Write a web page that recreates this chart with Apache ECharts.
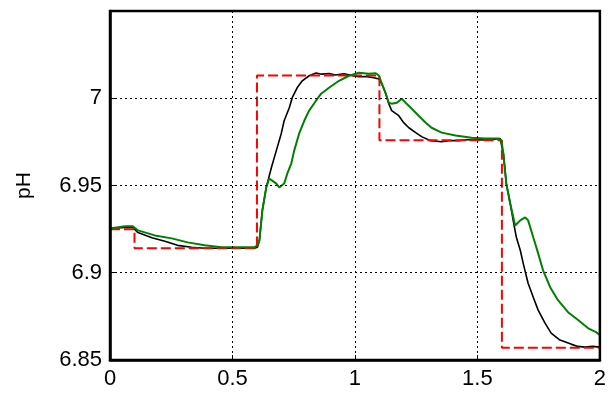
<!DOCTYPE html>
<html><head><meta charset="utf-8">
<script src="https://cdn.jsdelivr.net/npm/echarts@6/dist/echarts.min.js"></script>
<style>html,body{margin:0;padding:0;background:#fff}#c{width:609px;height:393px}</style>
</head><body><div id="c"></div>
<script>
const xTicks = [0, 0.5, 1, 1.5, 2];
const yTicks = [6.85, 6.9, 6.95, 7];
const setpointX = [0, 0.1, 0.1, 0.6, 0.6, 1.1, 1.1, 1.6, 1.6, 2];
const setpointY = [6.925, 6.925, 6.914, 6.914, 7.013, 7.013, 6.976, 6.976, 6.857, 6.857];
const blackX = [0,0.061,0.093,0.114,0.171,0.224,0.276,0.333,0.386,0.455,0.52,0.589,0.602,0.61,0.622,0.638,0.659,0.679,0.699,0.711,0.732,0.744,0.764,0.785,0.813,0.841,0.865,0.894,0.92,0.955,0.985,1.016,1.045,1.077,1.098,1.11,1.126,1.138,1.15,1.179,1.199,1.22,1.248,1.272,1.309,1.354,1.39,1.423,1.46,1.492,1.525,1.557,1.593,1.606,1.618,1.634,1.646,1.659,1.675,1.687,1.707,1.728,1.748,1.776,1.801,1.837,1.882,1.91,1.939,1.97,2.0];
const blackY = [6.9254,6.926,6.926,6.923,6.92,6.918,6.9157,6.9146,6.914,6.914,6.914,6.914,6.9146,6.9186,6.9357,6.9489,6.9603,6.97,6.9797,6.9871,6.9946,7.0003,7.006,7.01,7.0129,7.0145,7.0138,7.0142,7.0133,7.014,7.0131,7.0123,7.0125,7.0117,7.011,7.0083,7.0026,6.9969,6.9929,6.99,6.986,6.9831,6.9803,6.978,6.9757,6.9751,6.9758,6.9757,6.9762,6.9763,6.9761,6.9763,6.9769,6.9683,6.9511,6.9397,6.93,6.9203,6.9129,6.9054,6.894,6.886,6.8786,6.8711,6.8654,6.8614,6.8591,6.8578,6.8574,6.8578,6.8574];
const greenX = [0,0.061,0.093,0.114,0.183,0.252,0.317,0.386,0.455,0.52,0.589,0.602,0.61,0.622,0.638,0.65,0.665,0.679,0.691,0.711,0.724,0.74,0.752,0.772,0.793,0.813,0.841,0.862,0.894,0.935,0.976,1.016,1.057,1.085,1.098,1.11,1.126,1.138,1.15,1.171,1.191,1.207,1.232,1.26,1.289,1.313,1.354,1.411,1.476,1.533,1.585,1.598,1.606,1.618,1.634,1.654,1.675,1.695,1.707,1.728,1.748,1.768,1.797,1.829,1.87,1.911,1.951,1.984,2.0];
const greenY = [6.9254,6.9266,6.9266,6.9243,6.9214,6.9197,6.9174,6.9157,6.9146,6.9146,6.9146,6.9157,6.9186,6.9357,6.9489,6.954,6.9525,6.9511,6.9489,6.9511,6.9569,6.9626,6.97,6.9797,6.9871,6.9929,6.9986,7.0026,7.006,7.01,7.0129,7.0146,7.014,7.0143,7.0129,7.0083,7.0026,6.9974,6.9969,6.9974,6.9997,6.9974,6.994,6.99,6.986,6.9831,6.9803,6.9786,6.9774,6.9769,6.9769,6.9757,6.9683,6.9511,6.9397,6.9271,6.93,6.9317,6.93,6.9203,6.9111,6.9014,6.8917,6.8843,6.8774,6.8729,6.8683,6.866,6.8643];

const zip = (a, b) => a.map((v, i) => [v, b[i]]);
const chart = echarts.init(document.getElementById('c'), null, {renderer: 'canvas'});
const font = 'Liberation Sans, Arial, sans-serif';
const axisCommon = {
  axisLine: {show: true, onZero: false, lineStyle: {color: '#000', width: 2.5}},
  axisTick: {show: true, inside: true, length: 5, lineStyle: {color: '#000', width: 1}},
  splitLine: {show: true, lineStyle: {color: '#000', type: [2, 3], width: 1}}
};
chart.setOption({
  animation: false,
  grid: {left: 110, right: 7, top: 11, bottom: 33, show: true, borderColor: '#000', borderWidth: 2.5, backgroundColor: 'transparent', z: 10},
  xAxis: Object.assign({
    type: 'value', min: 0, max: 2, interval: 0.5, z: 10,
    axisLabel: {color: '#000', fontSize: 22, fontFamily: font, margin: 8,
      formatter: v => xTicks.includes(v) ? String(v) : ''}
  }, axisCommon),
  yAxis: Object.assign({
    type: 'value', min: 6.85, max: 7.05, interval: 0.05, z: 10,
    name: 'pH', nameLocation: 'middle', nameGap: 75, nameRotate: 90,
    nameTextStyle: {color: '#000', fontSize: 21, fontFamily: font},
    axisLabel: {color: '#000', fontSize: 22, fontFamily: font, margin: 8,
      formatter: v => { const t = yTicks.find(k => Math.abs(k - v) < 1e-6); return t === undefined ? '' : String(t); }}
  }, axisCommon),
  series: [
    {type: 'line', data: zip(blackX, blackY), showSymbol: false, lineStyle: {color: '#000', width: 1.6}, z: 2},
    {type: 'line', data: zip(setpointX, setpointY), showSymbol: false, lineStyle: {color: '#ff0000', width: 2, type: [10, 4]}, z: 3},
    {type: 'line', data: zip(greenX, greenY), showSymbol: false, lineStyle: {color: '#008000', width: 2}, z: 4}
  ]
});
</script></body></html>
